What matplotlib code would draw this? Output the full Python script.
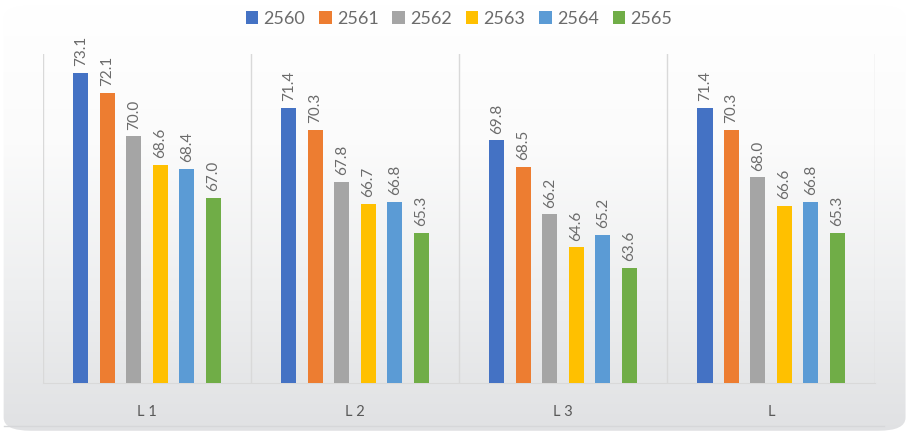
import numpy as np
import matplotlib
matplotlib.use('Agg')
import matplotlib.pyplot as plt
from matplotlib.patches import FancyBboxPatch
from matplotlib.colors import LinearSegmentedColormap

# data
groups = ['L 1', 'L 2', 'L 3', 'L']
years = ['2560', '2561', '2562', '2563', '2564', '2565']
v2560 = [73.1, 71.4, 69.8, 71.4]
v2561 = [72.1, 70.3, 68.5, 70.3]
v2562 = [70.0, 67.8, 66.2, 68.0]
v2563 = [68.6, 66.7, 64.6, 66.6]
v2564 = [68.4, 66.8, 65.2, 66.8]
v2565 = [67.0, 65.3, 63.6, 65.3]
series = [v2560, v2561, v2562, v2563, v2564, v2565]
colors = ['#4472C4', '#ED7D31', '#A5A5A5', '#FFC000', '#5B9BD5', '#70AD47']

plt.rcParams['font.family'] = ['Lato', 'DejaVu Sans']

fig = plt.figure(figsize=(9.11, 4.36), dpi=100)

# background panel with gradient
bg = fig.add_axes([0, 0, 1, 1])
bg.set_xlim(0, 1)
bg.set_ylim(0, 1)
bg.axis('off')
cmap = LinearSegmentedColormap.from_list('bg', ['#e0e1e3', '#eeeff0', '#fbfbfb', '#ffffff'])
grad = np.linspace(0, 1, 256).reshape(-1, 1)
im = bg.imshow(grad, extent=[0, 1, 0, 1], origin='lower', cmap=cmap, aspect='auto')
box = FancyBboxPatch((0.004, 0.012), 0.99, 0.975, boxstyle='round,pad=0,rounding_size=0.03',
                     transform=bg.transAxes, facecolor='none', edgecolor='none')
bg.add_patch(box)
im.set_clip_path(box)
bg.plot([0.004, 0.97], [0.022, 0.022], color='#d6d7d9', lw=1)

ax = fig.add_axes([0.0472, 0.1216, 0.9133, 0.7544])
ax.patch.set_alpha(0)
x = np.arange(len(groups))
w = 0.127
for i, (vals, c) in enumerate(zip(series, colors)):
    pos = x + (i - 2.5) * w
    ax.bar(pos, vals, width=w * 0.57, color=c, label=years[i], bottom=0, zorder=3)
    for p, v in zip(pos, vals):
        ax.text(p, v + 0.33, f'{v:.1f}', rotation=90, ha='center', va='bottom',
                fontsize=11, color='#6b6b6b')

ax.set_ylim(58, 74)
ax.set_xlim(-0.5, 3.5)
for b in np.arange(-0.5, 4, 1):
    ax.axvline(b, color='#d9d9d9', lw=1, zorder=1)
for s in ['top', 'left', 'right']:
    ax.spines[s].set_visible(False)
ax.spines['bottom'].set_color('#d9d9d9')
ax.set_yticks([])
ax.set_xticks(x)
ax.set_xticklabels(groups, fontsize=10.5, color='#595959')
ax.tick_params(axis='x', length=0, pad=16)

ax.legend(loc='upper center', bbox_to_anchor=(0.5, 1.18), ncol=6, frameon=False,
          fontsize=13, labelcolor='#6b6b6b', handlelength=0.7, handleheight=0.7,
          handletextpad=0.3, columnspacing=0.75)

fig.savefig('out.png', dpi=100)
